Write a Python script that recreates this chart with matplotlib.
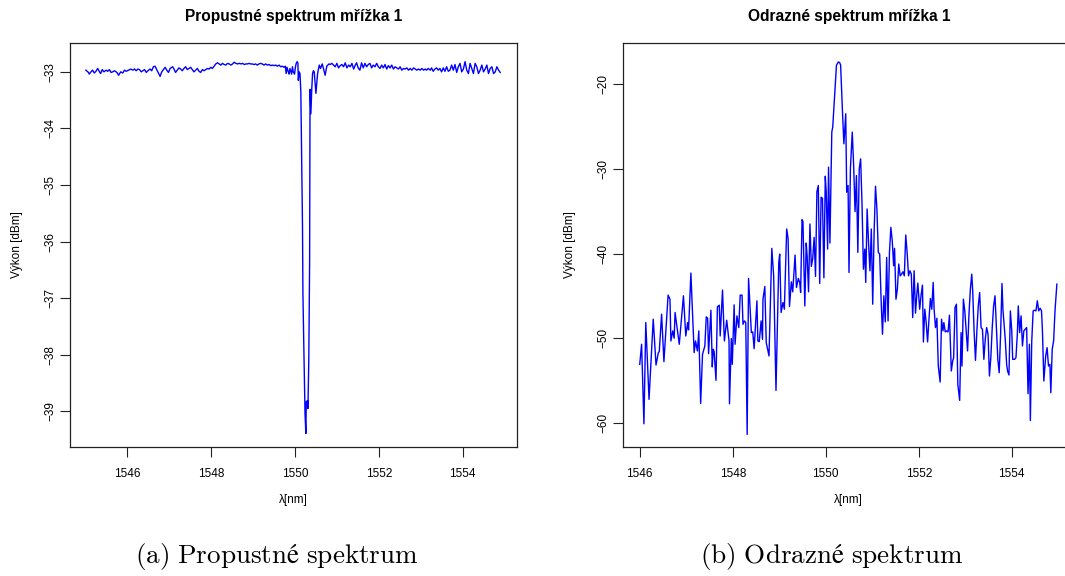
import matplotlib
matplotlib.use("Agg")
import matplotlib.pyplot as plt

# ---- Transmission spectrum (grating 1) ----
trans_wl = [
    1545.01, 1545.07, 1545.09, 1545.13, 1545.17, 1545.21, 1545.25, 1545.29, 1545.33, 1545.36,
    1545.40, 1545.44, 1545.49, 1545.53, 1545.57, 1545.61, 1545.65, 1545.69, 1545.75, 1545.79,
    1545.84, 1545.89, 1545.93, 1545.97, 1546.03, 1546.08, 1546.13, 1546.17, 1546.21, 1546.25,
    1546.29, 1546.33, 1546.37, 1546.41, 1546.45, 1546.49, 1546.54, 1546.58, 1546.62, 1546.66,
    1546.70, 1546.74, 1546.78, 1546.82, 1546.86, 1546.90, 1546.94, 1546.98, 1547.02, 1547.08,
    1547.12, 1547.15, 1547.19, 1547.23, 1547.27, 1547.31, 1547.35, 1547.39, 1547.43, 1547.47,
    1547.51, 1547.55, 1547.59, 1547.63, 1547.67, 1547.71, 1547.75, 1547.79, 1547.83, 1547.87,
    1547.91, 1547.95, 1547.99, 1548.03, 1548.07, 1548.11, 1548.15, 1548.19, 1548.23, 1548.27,
    1548.31, 1548.35, 1548.39, 1548.43, 1548.47, 1548.51, 1548.55, 1548.59, 1548.63, 1548.67,
    1548.71, 1548.75, 1548.79, 1548.83, 1548.87, 1548.90, 1548.94, 1548.98, 1549.02, 1549.06,
    1549.10, 1549.14, 1549.18, 1549.22, 1549.26, 1549.30, 1549.34, 1549.38, 1549.42, 1549.46,
    1549.50, 1549.54, 1549.58, 1549.62, 1549.66, 1549.70, 1549.74, 1549.77, 1549.79, 1549.81,
    1549.84, 1549.86, 1549.88, 1549.92, 1549.94, 1549.96, 1549.99, 1550.01, 1550.03, 1550.05,
    1550.07, 1550.08, 1550.10, 1550.12, 1550.14,
    1550.16, 1550.18, 1550.19, 1550.21, 1550.23, 1550.24, 1550.26, 1550.27, 1550.30, 1550.31,
    1550.33, 1550.35, 1550.36, 1550.38, 1550.40, 1550.42, 1550.44, 1550.46, 1550.50, 1550.52,
    1550.54, 1550.58, 1550.61, 1550.65, 1550.68, 1550.72, 1550.76, 1550.81,
    1550.84, 1550.88, 1550.92, 1550.96, 1551.00, 1551.04, 1551.08, 1551.12, 1551.16, 1551.20,
    1551.24, 1551.28, 1551.32, 1551.36, 1551.40, 1551.44, 1551.47, 1551.51, 1551.55, 1551.59,
    1551.63, 1551.67, 1551.71, 1551.75, 1551.79, 1551.83, 1551.87, 1551.91, 1551.95, 1551.99,
    1552.03, 1552.07, 1552.11, 1552.15, 1552.19, 1552.23, 1552.27, 1552.31, 1552.35, 1552.39,
    1552.43, 1552.47, 1552.51, 1552.55, 1552.59, 1552.63, 1552.67, 1552.71, 1552.75, 1552.79,
    1552.83, 1552.87, 1552.91, 1552.95, 1552.99, 1553.03, 1553.07, 1553.11, 1553.14, 1553.18,
    1553.23, 1553.26, 1553.30, 1553.34, 1553.38, 1553.42, 1553.46, 1553.50, 1553.54, 1553.58,
    1553.62, 1553.66, 1553.70, 1553.74, 1553.78, 1553.82, 1553.86, 1553.90, 1553.94, 1553.98,
    1554.02, 1554.06, 1554.10, 1554.14, 1554.18, 1554.22, 1554.26, 1554.30, 1554.34, 1554.38,
    1554.42, 1554.46, 1554.50, 1554.54, 1554.58, 1554.62, 1554.66, 1554.70, 1554.74, 1554.78,
    1554.82, 1554.86, 1554.90,
]
trans_dbm = [
    -32.97, -33.01, -33.04, -33.00, -32.97, -33.02, -32.99, -32.94, -32.99, -33.03,
    -32.96, -33.00, -32.97, -32.99, -32.96, -33.01, -33.00, -32.98, -33.01, -33.06,
    -33.00, -33.02, -32.97, -32.99, -32.97, -32.95, -32.97, -32.95, -32.98, -32.95,
    -32.96, -33.00, -32.98, -32.96, -33.01, -32.98, -32.95, -32.98, -32.91, -32.90,
    -32.96, -33.02, -33.08, -33.00, -32.96, -32.92, -32.97, -33.01, -32.94, -32.91,
    -32.96, -33.01, -32.97, -32.93, -32.95, -32.98, -32.94, -32.91, -32.96, -32.94,
    -32.92, -32.96, -33.00, -32.97, -32.94, -32.99, -33.01, -32.96, -32.98, -32.96,
    -32.94, -32.95, -32.92, -32.94, -32.90, -32.86, -32.84, -32.86, -32.88, -32.85,
    -32.87, -32.88, -32.85, -32.86, -32.88, -32.86, -32.83, -32.85, -32.86, -32.85,
    -32.86, -32.85, -32.87, -32.86, -32.86, -32.85, -32.86, -32.86, -32.87, -32.86,
    -32.88, -32.86, -32.85, -32.86, -32.88, -32.86, -32.88, -32.87, -32.89, -32.88,
    -32.89, -32.88, -32.90, -32.88, -32.91, -32.90, -32.92, -32.90, -33.03, -32.92,
    -33.00, -33.04, -32.94, -33.04, -32.91, -33.00, -33.04, -32.92, -32.85, -32.82,
    -32.84, -33.15, -33.00, -33.03, -33.35,
    -34.56, -35.74, -36.92, -37.80, -38.56, -39.04, -39.39, -38.83, -38.81, -38.95,
    -38.09, -36.33, -33.31, -33.74, -33.32, -33.03, -32.98, -33.00, -33.38, -33.21,
    -33.03, -32.88, -32.94, -32.86, -32.94, -33.06, -32.90, -32.86,
    -32.87, -32.85, -32.88, -32.91, -32.85, -32.93, -32.89, -32.87, -32.91, -32.84,
    -32.93, -32.88, -32.91, -32.85, -32.95, -32.88, -32.84, -32.93, -32.97, -32.84,
    -32.93, -32.85, -32.91, -32.87, -32.85, -32.93, -32.88, -32.91, -32.85, -32.91,
    -32.94, -32.88, -32.93, -32.87, -32.95, -32.89, -32.93, -32.88, -32.95, -32.91,
    -32.93, -32.95, -32.91, -32.97, -32.94, -32.95, -32.93, -32.97, -32.94, -32.97,
    -32.93, -32.95, -32.97, -32.95, -32.97, -32.94, -32.97, -32.95, -32.97, -32.94,
    -32.97, -32.93, -32.99, -32.95, -32.93, -32.97, -32.94, -33.00, -32.93, -32.99,
    -32.91, -32.99, -32.97, -32.88, -32.97, -32.87, -33.01, -32.91, -32.85, -33.00,
    -32.95, -32.82, -32.97, -33.03, -32.85, -32.94, -33.03, -32.85, -32.91, -33.03,
    -32.97, -32.88, -33.00, -32.95, -32.88, -33.03, -32.94, -32.91, -33.03, -33.00,
    -32.91, -32.97, -33.01,
]

# ---- Reflection spectrum (grating 1) ----
refl_wl = [
    1546.00, 1546.04, 1546.09, 1546.13, 1546.20, 1546.29, 1546.35, 1546.40, 1546.42, 1546.47,
    1546.52, 1546.61, 1546.65, 1546.67, 1546.71, 1546.74, 1546.76, 1546.85, 1546.94, 1546.99,
    1547.03, 1547.05, 1547.10, 1547.17, 1547.20, 1547.24, 1547.27, 1547.31, 1547.35, 1547.40,
    1547.43, 1547.46, 1547.48, 1547.53, 1547.56, 1547.58, 1547.60, 1547.64, 1547.67, 1547.71,
    1547.73, 1547.78, 1547.82, 1547.87, 1547.92, 1547.93, 1547.97, 1547.99, 1548.03, 1548.05,
    1548.09, 1548.13,
    1548.16, 1548.20, 1548.22, 1548.25, 1548.28, 1548.31, 1548.34, 1548.40, 1548.43, 1548.46,
    1548.52, 1548.54, 1548.57, 1548.61, 1548.64, 1548.65, 1548.69, 1548.72, 1548.78, 1548.84,
    1548.88, 1548.93, 1548.99, 1549.01, 1549.04, 1549.08, 1549.11, 1549.16, 1549.19, 1549.22,
    1549.26, 1549.29, 1549.34, 1549.37, 1549.41, 1549.44, 1549.46, 1549.49, 1549.51, 1549.55,
    1549.58, 1549.60, 1549.63, 1549.66, 1549.69, 1549.72, 1549.75, 1549.78, 1549.81, 1549.84,
    1549.87, 1549.90, 1549.93, 1549.96, 1549.99, 1550.01, 1550.04, 1550.06, 1550.09, 1550.12,
    1550.13, 1550.15, 1550.18, 1550.23, 1550.27, 1550.30, 1550.32, 1550.36, 1550.39, 1550.43,
    1550.45, 1550.48, 1550.50, 1550.53, 1550.57, 1550.60, 1550.63, 1550.66, 1550.69, 1550.72,
    1550.75, 1550.78, 1550.81, 1550.84, 1550.86, 1550.89, 1550.92, 1550.95, 1550.98, 1551.01,
    1551.04, 1551.07, 1551.10, 1551.13, 1551.16, 1551.19, 1551.22, 1551.25, 1551.28, 1551.31,
    1551.34, 1551.37, 1551.40, 1551.43, 1551.46, 1551.48, 1551.51, 1551.54, 1551.57, 1551.60,
    1551.63, 1551.66, 1551.69, 1551.72, 1551.75, 1551.78, 1551.81, 1551.84, 1551.87, 1551.90,
    1551.93, 1551.96, 1551.98, 1552.02, 1552.05, 1552.08, 1552.10, 1552.13, 1552.16, 1552.19,
    1552.22, 1552.25, 1552.28, 1552.31, 1552.33, 1552.36, 1552.39, 1552.42, 1552.46, 1552.49,
    1552.52, 1552.54, 1552.57, 1552.60, 1552.63, 1552.66,
    1552.70, 1552.73, 1552.75, 1552.78, 1552.81, 1552.84, 1552.88, 1552.91, 1552.93, 1552.96,
    1552.99, 1553.02, 1553.05, 1553.08, 1553.11, 1553.14, 1553.16, 1553.19, 1553.22, 1553.25,
    1553.28, 1553.31, 1553.34, 1553.37, 1553.40, 1553.43, 1553.46, 1553.49, 1553.52, 1553.55,
    1553.58, 1553.61, 1553.64, 1553.67, 1553.70, 1553.73, 1553.76, 1553.79, 1553.81, 1553.86,
    1553.89, 1553.91, 1553.94, 1553.97, 1554.00, 1554.02, 1554.06, 1554.09, 1554.12, 1554.14,
    1554.17, 1554.20, 1554.23, 1554.26, 1554.29, 1554.32, 1554.35, 1554.38, 1554.40, 1554.43,
    1554.46, 1554.49, 1554.52, 1554.55, 1554.58, 1554.61, 1554.64, 1554.66, 1554.69, 1554.73,
    1554.76, 1554.79, 1554.82, 1554.84, 1554.87, 1554.90, 1554.93, 1554.97,
]
refl_dbm = [
    -53.06, -50.69, -60.08, -48.13, -57.20, -47.73, -53.14, -51.68, -51.56, -47.14,
    -52.74, -44.89, -45.37, -50.30, -49.11, -49.98, -46.94, -50.69, -44.97, -49.71,
    -48.13, -48.99, -42.29, -51.68, -50.30, -51.48, -49.11, -57.67, -51.88, -50.89,
    -47.46, -47.62, -51.80, -46.67, -53.37, -51.28, -51.56, -54.95, -46.27, -46.08,
    -49.71, -44.30, -50.30, -47.85, -50.30, -57.71, -50.02, -53.06, -46.04, -50.69,
    -47.34, -48.72,
    -44.89, -44.89, -48.33, -47.93, -48.13, -61.34, -42.92, -49.31, -49.23, -51.21,
    -45.56, -50.30, -50.38, -47.93, -50.10, -45.37, -43.87, -50.49, -52.07, -39.37,
    -42.61, -56.14, -41.03, -40.04, -46.94, -45.76, -46.55, -37.08, -38.19, -46.23,
    -43.32, -44.50, -40.16, -43.99, -42.92, -43.39, -44.58, -35.98, -36.21, -46.16,
    -38.74, -40.32, -44.50, -36.49, -41.50, -40.55, -38.07, -42.68, -32.66, -31.95,
    -43.51, -33.33, -33.45, -42.84, -30.85, -32.66, -39.45, -29.78, -38.74, -28.72,
    -25.64, -25.05, -22.29, -17.75, -17.36, -17.44, -17.75, -23.28, -27.02, -23.47,
    -32.74, -31.95, -42.21, -29.98, -25.64, -29.59, -35.03, -30.77, -39.84, -29.98,
    -28.80, -34.12, -41.82, -39.45, -43.39, -34.72, -38.66, -42.01, -37.08, -45.96,
    -37.48, -32.03, -34.72, -39.84, -40.04, -45.37, -49.51, -44.97, -48.05, -40.44,
    -47.93, -39.84, -36.89, -38.46, -41.42, -39.37, -45.37, -44.18, -41.22, -42.61,
    -42.41, -42.13, -42.61, -37.79, -39.84, -42.61, -42.01, -42.41, -47.54, -42.01,
    -47.02, -44.66, -43.47, -46.55, -44.89, -43.71, -50.42, -46.55, -48.13, -50.42,
    -47.73, -45.29, -46.55, -43.39, -46.55, -48.72, -47.62, -53.26, -55.15, -47.73,
    -49.11, -48.13, -49.23, -49.11, -49.23, -47.26,
    -53.85, -52.66, -52.27, -46.35, -45.96, -55.43, -57.32, -49.31, -53.26, -45.37,
    -46.75, -49.11, -51.48, -47.14, -44.18, -42.41, -44.38, -49.11, -52.59, -49.11,
    -46.16, -44.58, -48.72, -48.92, -52.47, -50.10, -48.72, -49.51, -54.44, -52.27,
    -48.72, -46.16, -44.97, -48.72, -52.47, -54.05, -49.51, -43.51, -46.55, -50.10,
    -53.06, -53.85, -54.32, -46.75, -49.11, -52.47, -52.47, -52.27, -49.51, -46.16,
    -49.31, -47.34, -50.89, -49.11, -48.92, -48.72, -56.53, -50.69, -59.69, -50.30,
    -46.75, -46.67, -46.75, -45.56, -46.75, -46.43, -46.75, -49.11, -55.03, -52.07,
    -51.09, -53.26, -53.06, -56.41, -51.28, -50.30, -46.75, -43.59,
]

titles = ["Propustné spektrum mřížka 1", "Odrazné spektrum mřížka 1"]
captions = [r"$\mathrm{(a)\ Propustné\ spektrum}$",
            r"$\mathrm{(b)\ Odrazné\ spektrum}$"]
x_ticks = [1546, 1548, 1550, 1552, 1554]
trans_yticks = [-39, -38, -37, -36, -35, -34, -33]
refl_yticks = [-60, -50, -40, -30, -20]

plt.rcParams["font.family"] = ["Liberation Sans", "DejaVu Sans"]
plt.rcParams["mathtext.fontset"] = "cm"

W, H = 1065, 576
fig = plt.figure(figsize=(W / 100, H / 100), dpi=100)

def px_axes(left, top, right, bottom):
    return fig.add_axes([left / W, 1 - bottom / H, (right - left) / W, (bottom - top) / H])

ax1 = px_axes(70, 43, 517, 447)
ax2 = px_axes(623, 43, 1075, 447)

ax1.plot(trans_wl, trans_dbm, color="#0000ff", lw=1.0)
ax1.set_xlim(1544.63, 1555.30)
ax1.set_ylim(-39.63, -32.49)
ax1.set_yticks(trans_yticks)

ax2.plot(refl_wl, refl_dbm, color="#0000ff", lw=1.0)
ax2.set_xlim(1545.64, 1555.36)
ax2.set_ylim(-62.82, -15.12)
ax2.set_yticks(refl_yticks)

for ax, title in zip((ax1, ax2), titles):
    ax.set_xticks(x_ticks)
    for sp in ax.spines.values():
        sp.set_linewidth(0.9)
        sp.set_color("#222222")
    ax.tick_params(direction="out", length=7, width=0.8, labelsize=8.5,
                   color="#222222")
    ax.tick_params(axis="x", pad=8)
    ax.tick_params(axis="y", pad=3)
    for lab in ax.get_yticklabels():
        lab.set_rotation(90)
        lab.set_va("center")
        lab.set_ha("right")
    ax.set_title(title, fontsize=11.2, fontweight="bold", pad=16)
    ax.set_xlabel("λ[nm]", fontsize=8.5, va="center")
    ax.set_ylabel("Výkon [dBm]", fontsize=8.5, va="center")

ax1.xaxis.set_label_coords(0.5, -(500 - 447) / 404)
ax2.xaxis.set_label_coords((848 - 623) / 452, -(500 - 447) / 404)
ax1.yaxis.set_label_coords((17 - 70) / 447, 0.5)
ax2.yaxis.set_label_coords((570 - 623) / 452, 0.5)

fig.text(277 / W, 1 - 556 / H, captions[0], fontsize=19.5, ha="center", va="center")
fig.text(832 / W, 1 - 556 / H, captions[1], fontsize=19.5, ha="center", va="center")

fig.savefig("out.png", dpi=100)
